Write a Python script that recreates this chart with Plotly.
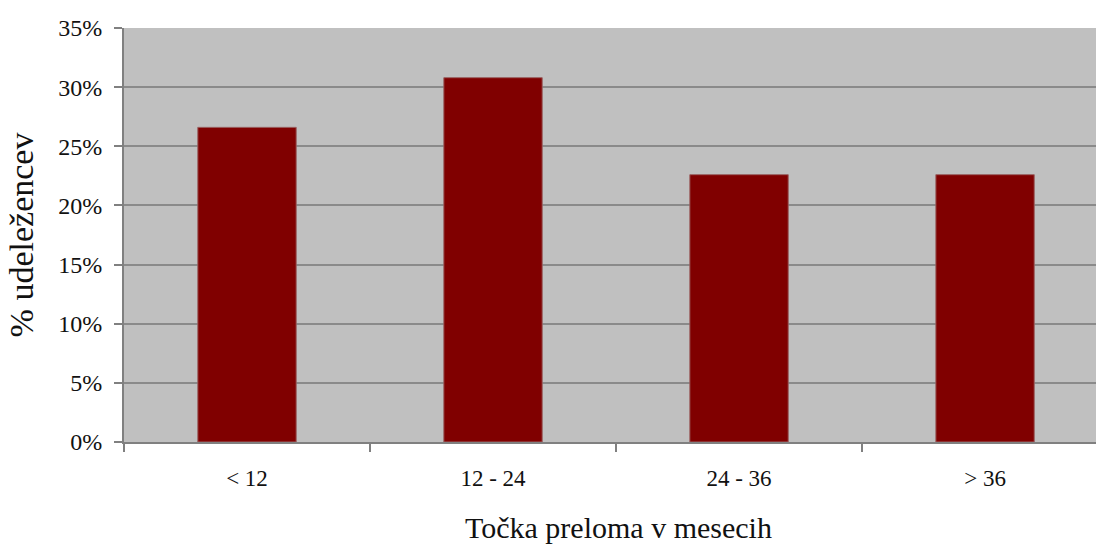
import plotly.graph_objects as go

categories = ["< 12", "12 - 24", "24 - 36", "> 36"]
values = [0.266, 0.308, 0.226, 0.226]
y_ticks = [0, 0.05, 0.10, 0.15, 0.20, 0.25, 0.30, 0.35]
y_tick_labels = ["0%", "5%", "10%", "15%", "20%", "25%", "30%", "35%"]
x_title = "Točka preloma v mesecih"
y_title = "% udeležencev"

font_family = "Liberation Serif, Times New Roman, serif"

fig = go.Figure(
    go.Bar(
        x=categories,
        y=values,
        marker=dict(color="#800000", line=dict(color="#9a6060", width=1)),
        width=0.4,
    )
)

fig.update_layout(
    width=1096,
    height=548,
    margin=dict(l=124, r=0, t=28, b=106),
    paper_bgcolor="white",
    plot_bgcolor="#c0c0c0",
    showlegend=False,
    font=dict(family=font_family, size=23, color="#111111"),
)

fig.update_xaxes(
    range=[-0.5, 3.451],
    tickson="boundaries",
    ticks="outside",
    ticklen=8,
    tickcolor="#808080",
    tickwidth=1.5,
    showline=True,
    linecolor="#808080",
    linewidth=2,
    showgrid=False,
    tickfont=dict(size=23),
    ticklabelstandoff=14,
)

fig.add_annotation(
    text=x_title,
    xref="paper", yref="paper",
    x=0.509, y=0,
    yshift=-85,
    xanchor="center", yanchor="middle",
    showarrow=False,
    font=dict(size=30),
)

fig.update_yaxes(
    range=[0, 0.35],
    tickvals=y_ticks,
    ticktext=y_tick_labels,
    ticks="outside",
    ticklen=8,
    tickcolor="#808080",
    tickwidth=1.5,
    showline=True,
    linecolor="#808080",
    linewidth=2,
    showgrid=True,
    gridcolor="#8a8a8a",
    gridwidth=2,
    zeroline=False,
    tickfont=dict(size=24),
    ticklabelstandoff=7,
    title=dict(text=y_title, font=dict(size=34), standoff=14),
)

fig.write_html("out.html")
